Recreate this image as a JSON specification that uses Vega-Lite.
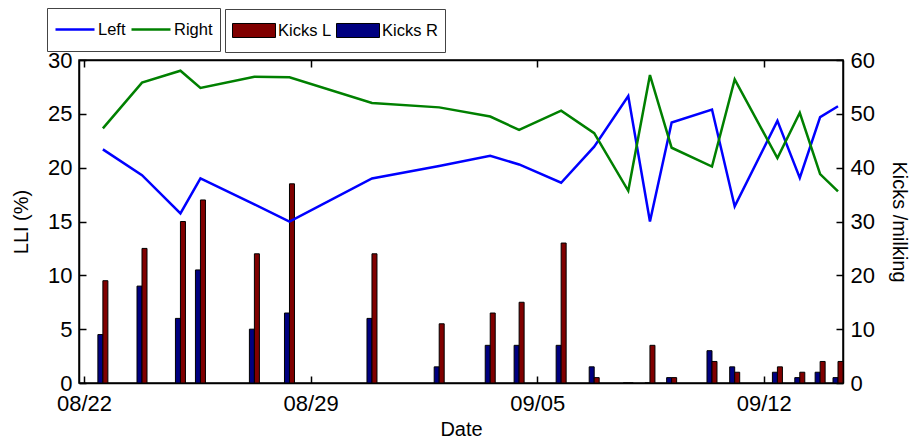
{
  "$schema": "https://vega.github.io/schema/vega-lite/v6.json",
  "width": 764,
  "height": 323,
  "autosize": {"type": "none"},
  "padding": {"left": 79, "top": 60, "right": 70, "bottom": 60},
  "background": "white",
  "config": {
    "view": {"stroke": "black", "strokeWidth": 1.5},
    "font": "Liberation Sans",
    "axis": {
      "grid": false,
      "domainColor": "black",
      "domainWidth": 1.5,
      "tickColor": "black",
      "tickWidth": 1.5,
      "tickSize": -7,
      "labelFont": "Liberation Sans",
      "labelFontSize": 22,
      "labelColor": "black",
      "titleFont": "Liberation Sans",
      "titleFontSize": 20,
      "titleFontWeight": "normal",
      "titleColor": "black"
    },
    "legend": {
      "labelFont": "Liberation Sans",
      "labelFontSize": 16.5,
      "labelColor": "black",
      "labelOffset": 2,
      "padding": 7,
      "columnPadding": 4,
      "clipHeight": 29,
      "strokeColor": "#444",
      "fillColor": "white"
    }
  },
  "data": {
    "values": [
      {"t": "2014-08-22T14:00", "left": 21.7, "right": 23.65, "kicksR": 9, "kicksL": 19},
      {"t": "2014-08-23T19:00", "left": 19.3, "right": 27.9, "kicksR": 18, "kicksL": 25},
      {"t": "2014-08-24T23:30", "left": 15.75, "right": 29.0, "kicksR": 12, "kicksL": 30},
      {"t": "2014-08-25T14:20", "left": 19.0, "right": 27.4, "kicksR": 21, "kicksL": 34},
      {"t": "2014-08-27T06:20", "left": 16.6, "right": 28.45, "kicksR": 10, "kicksL": 24},
      {"t": "2014-08-28T08:20", "left": 15.0, "right": 28.4, "kicksR": 13, "kicksL": 37},
      {"t": "2014-08-30T21:30", "left": 19.0, "right": 26.0, "kicksR": 12, "kicksL": 24},
      {"t": "2014-09-01T23:20", "left": 20.15, "right": 25.6, "kicksR": 3, "kicksL": 11},
      {"t": "2014-09-03T13:10", "left": 21.1, "right": 24.75, "kicksR": 7, "kicksL": 13},
      {"t": "2014-09-04T10:35", "left": 20.3, "right": 23.5, "kicksR": 7, "kicksL": 15},
      {"t": "2014-09-05T17:45", "left": 18.6, "right": 25.3, "kicksR": 7, "kicksL": 26},
      {"t": "2014-09-06T18:15", "left": 21.95, "right": 23.2, "kicksR": 3, "kicksL": 1},
      {"t": "2014-09-07T19:30", "left": 26.65, "right": 17.85, "kicksR": 0, "kicksL": 0},
      {"t": "2014-09-08T11:35", "left": 15.0, "right": 28.6, "kicksR": 0, "kicksL": 7},
      {"t": "2014-09-09T03:40", "left": 24.2, "right": 21.85, "kicksR": 1, "kicksL": 1},
      {"t": "2014-09-10T09:35", "left": 25.4, "right": 20.1, "kicksR": 6, "kicksL": 4},
      {"t": "2014-09-11T02:25", "left": 16.4, "right": 28.2, "kicksR": 3, "kicksL": 2},
      {"t": "2014-09-12T10:05", "left": 24.35, "right": 20.9, "kicksR": 2, "kicksL": 3},
      {"t": "2014-09-13T02:40", "left": 19.05, "right": 25.1, "kicksR": 1, "kicksL": 2},
      {"t": "2014-09-13T17:45", "left": 24.7, "right": 19.4, "kicksR": 2, "kicksL": 4},
      {"t": "2014-09-14T07:00", "left": 25.7, "right": 17.8, "kicksR": 1, "kicksL": 4}
    ]
  },
  "encoding": {
    "x": {
      "field": "t",
      "type": "temporal",
      "scale": {
        "domain": [
          {"year": 2014, "month": 8, "date": 22, "hours": 0},
          {"year": 2014, "month": 9, "date": 14, "hours": 7}
        ],
        "nice": false
      }
    }
  },
  "layer": [
    {
      "layer": [
        {
          "mark": {"type": "bar", "width": 5, "xOffset": -2.5, "stroke": "black", "strokeWidth": 1, "clip": true},
          "encoding": {
            "x": {
              "field": "t",
              "type": "temporal",
              "axis": {
                "title": "Date",
                "orient": "bottom",
                "values": [
                  {"year": 2014, "month": 8, "date": 22},
                  {"year": 2014, "month": 8, "date": 29},
                  {"year": 2014, "month": 9, "date": 5},
                  {"year": 2014, "month": 9, "date": 12}
                ],
                "format": "%m/%d",
                "labelPadding": 17,
                "labelFlush": false,
                "titlePadding": 5
              }
            },
            "y": {
              "field": "kicksR",
              "type": "quantitative",
              "scale": {"domain": [0, 60], "nice": false},
              "axis": {
                "orient": "right",
                "title": "Kicks /milking",
                "values": [0, 10, 20, 30, 40, 50, 60],
                "labelPadding": 14,
                "titlePadding": 14
              }
            },
            "fill": {
              "datum": "Kicks R",
              "scale": {"domain": ["Kicks L", "Kicks R"], "range": ["#800000", "#000080"]},
              "legend": {
                "title": null,
                "orient": "none",
                "legendX": 146,
                "legendY": -51,
                "direction": "horizontal",
                "symbolType": "M-1,-0.326H1V0.326H-1Z",
                "symbolSize": 1849,
                "symbolStrokeColor": "black",
                "symbolStrokeWidth": 1,
                "symbolOpacity": 1,
                "symbolFillOpacity": 1
              }
            }
          }
        },
        {
          "mark": {"type": "bar", "width": 5, "xOffset": 2.5, "stroke": "black", "strokeWidth": 1, "clip": true},
          "encoding": {
            "y": {"field": "kicksL", "type": "quantitative"},
            "fill": {"datum": "Kicks L"}
          }
        }
      ]
    },
    {
      "layer": [
        {
          "mark": {"type": "line", "strokeWidth": 2.5, "clip": true},
          "encoding": {
            "x": {
              "field": "t",
              "type": "temporal",
              "axis": {
                "title": null,
                "orient": "top",
                "labels": false,
                "values": [
                  {"year": 2014, "month": 8, "date": 22},
                  {"year": 2014, "month": 8, "date": 29},
                  {"year": 2014, "month": 9, "date": 5},
                  {"year": 2014, "month": 9, "date": 12}
                ]
              }
            },
            "y": {
              "field": "left",
              "type": "quantitative",
              "scale": {"domain": [0, 30], "nice": false},
              "axis": {
                "orient": "left",
                "title": "LLI (%)",
                "values": [0, 5, 10, 15, 20, 25, 30],
                "labelPadding": 14,
                "titlePadding": 16
              }
            },
            "stroke": {
              "datum": "Left",
              "scale": {"domain": ["Left", "Right"], "range": ["#0000ff", "#008000"]},
              "legend": {
                "title": null,
                "orient": "none",
                "legendX": -32,
                "legendY": -52,
                "direction": "horizontal",
                "symbolType": "stroke",
                "symbolSize": 1521,
                "symbolStrokeWidth": 2.5
              }
            }
          }
        },
        {
          "mark": {"type": "line", "strokeWidth": 2.5, "clip": true},
          "encoding": {
            "y": {"field": "right", "type": "quantitative"},
            "stroke": {"datum": "Right"}
          }
        }
      ]
    }
  ],
  "resolve": {"scale": {"y": "independent"}, "axis": {"x": "independent", "y": "independent"}}
}
